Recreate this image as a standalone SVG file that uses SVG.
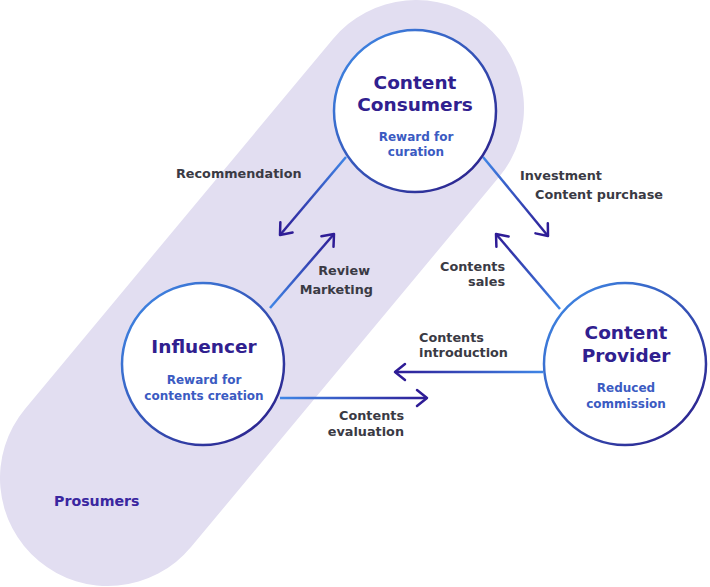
<svg xmlns="http://www.w3.org/2000/svg" width="710" height="587" viewBox="0 0 710 587">
<defs>
<style>
text{font-family:"DejaVu Sans","Liberation Sans",sans-serif;font-weight:bold}
.title{font-size:18.5px;fill:#30208f;text-anchor:middle}
.sub{font-size:12px;fill:#3b5bc2;text-anchor:middle}
.lbl{font-size:12.8px;fill:#3a3a44}
.node{fill:#ffffff;stroke:url(#cg);stroke-width:2.5}
.conn{fill:none;stroke-width:2.5;marker-end:url(#ah)}
</style>
<linearGradient id="cg" x1="0" y1="0" x2="1" y2="1">
<stop offset="0" stop-color="#4090ec"/>
<stop offset="1" stop-color="#2a1884"/>
</linearGradient>
<linearGradient id="g1" gradientUnits="userSpaceOnUse" x1="346" y1="157" x2="280" y2="235"><stop offset="0" stop-color="#3f86e6"/><stop offset="1" stop-color="#2e1c96"/></linearGradient>
<linearGradient id="g2" gradientUnits="userSpaceOnUse" x1="270" y1="308" x2="334" y2="234"><stop offset="0" stop-color="#3f86e6"/><stop offset="1" stop-color="#2e1c96"/></linearGradient>
<linearGradient id="g3" gradientUnits="userSpaceOnUse" x1="483" y1="157" x2="548" y2="236"><stop offset="0" stop-color="#3f86e6"/><stop offset="1" stop-color="#2e1c96"/></linearGradient>
<linearGradient id="g4" gradientUnits="userSpaceOnUse" x1="560" y1="309" x2="496" y2="234"><stop offset="0" stop-color="#3f86e6"/><stop offset="1" stop-color="#2e1c96"/></linearGradient>
<linearGradient id="g5" gradientUnits="userSpaceOnUse" x1="543" y1="372" x2="395" y2="372"><stop offset="0" stop-color="#3f86e6"/><stop offset="1" stop-color="#2e1c96"/></linearGradient>
<linearGradient id="g6" gradientUnits="userSpaceOnUse" x1="280" y1="398" x2="427" y2="398"><stop offset="0" stop-color="#3f86e6"/><stop offset="1" stop-color="#2e1c96"/></linearGradient>
<marker id="ah" markerUnits="userSpaceOnUse" markerWidth="24" markerHeight="24" viewBox="-14 -12 24 24" refX="0" refY="0" orient="auto">
<path d="M-10,-8 L0,0 L-10,8" fill="none" stroke="#2e1c96" stroke-width="2.5" stroke-linecap="round" stroke-linejoin="round"/>
</marker>
</defs>

<g id="prosumers">
<line x1="416" y1="108" x2="108" y2="478" stroke="#e2def1" stroke-width="216" stroke-linecap="round"/>
<text x="54" y="506" style="font-size:14.2px;fill:#3a26a0">Prosumers</text>
</g>

<g id="connectors">
<line class="conn" stroke="url(#g1)" x1="346" y1="157" x2="280" y2="235"/>
<line class="conn" stroke="url(#g2)" x1="270" y1="308" x2="334" y2="234"/>
<line class="conn" stroke="url(#g3)" x1="483" y1="157" x2="548" y2="236"/>
<line class="conn" stroke="url(#g4)" x1="560" y1="309" x2="496" y2="234"/>
<line class="conn" stroke="url(#g5)" x1="543" y1="372" x2="395" y2="372"/>
<line class="conn" stroke="url(#g6)" x1="280" y1="398" x2="427" y2="398"/>
<text class="lbl" x="176" y="178">Recommendation</text>
<text class="lbl" x="370" y="275" text-anchor="end">Review</text>
<text class="lbl" x="373" y="294" text-anchor="end">Marketing</text>
<text class="lbl" x="520" y="180">Investment</text>
<text class="lbl" x="535" y="199">Content purchase</text>
<text class="lbl" x="505" y="271" text-anchor="end">Contents</text>
<text class="lbl" x="505" y="286" text-anchor="end">sales</text>
<text class="lbl" x="419" y="342">Contents</text>
<text class="lbl" x="419" y="357">introduction</text>
<text class="lbl" x="404" y="420" text-anchor="end">Contents</text>
<text class="lbl" x="404" y="436" text-anchor="end">evaluation</text>
</g>

<g id="content-consumers">
<circle class="node" cx="415" cy="111" r="81"/>
<text class="title" x="415" y="89">Content</text>
<text class="title" x="415" y="111">Consumers</text>
<text class="sub" x="416" y="141">Reward for</text>
<text class="sub" x="416" y="156">curation</text>
</g>

<g id="influencer">
<circle class="node" cx="203" cy="364" r="81"/>
<text class="title" x="204" y="353">Influencer</text>
<text class="sub" x="204" y="384">Reward for</text>
<text class="sub" x="204" y="400">contents creation</text>
</g>

<g id="content-provider">
<circle class="node" cx="625" cy="364" r="81"/>
<text class="title" x="626" y="339">Content</text>
<text class="title" x="626" y="362">Provider</text>
<text class="sub" x="626" y="392">Reduced</text>
<text class="sub" x="626" y="408">commission</text>
</g>
</svg>
